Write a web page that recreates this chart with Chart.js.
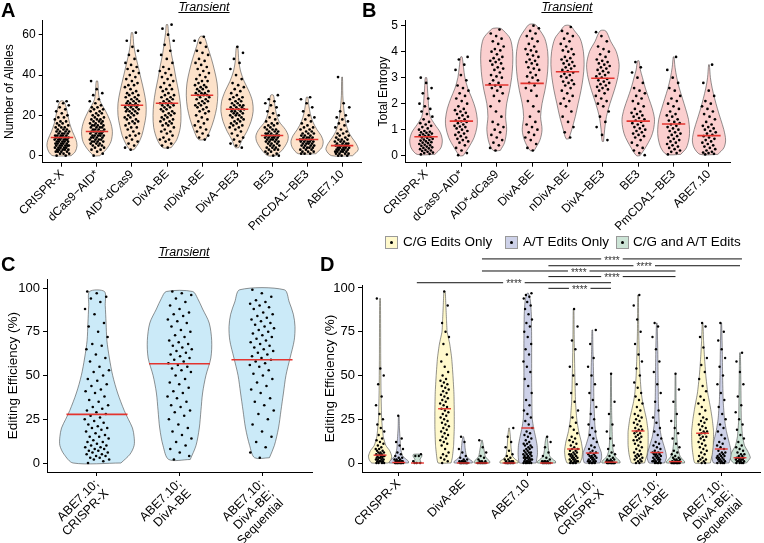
<!DOCTYPE html>
<html>
<head>
<meta charset="utf-8">
<script src="https://cdn.jsdelivr.net/npm/chart.js@4.4.0/dist/chart.umd.min.js"></script>
<style>
  body { margin: 0; background: #fff; font-family: "Liberation Sans", Arial, sans-serif; }
  #wrap { position: relative; width: 764px; height: 543px; overflow: hidden; }
  canvas { position: absolute; }
  .letter { position: absolute; font-weight: bold; font-size: 20px; line-height: 20px; }
  .ttl { position: absolute; width: 120px; text-align: center; font-style: italic; text-decoration: underline; font-size: 12.5px; line-height: 12px; }
  .leg { position: absolute; font-size: 13.5px; line-height: 14px; white-space: nowrap; }
  .box { position: absolute; width: 11px; height: 11px; border: 1px solid #999; }
  .box::after { content: ""; position: absolute; left: 4px; top: 4px; width: 3px; height: 3px; border-radius: 50%; background: #000; }
</style>
</head>
<body>
<div id="wrap">
  <canvas id="cA" width="370" height="270" style="left:0;top:0"></canvas>
  <canvas id="cB" width="392" height="270" style="left:372px;top:0"></canvas>
  <canvas id="cC" width="370" height="303" style="left:0;top:240px"></canvas>
  <canvas id="cD" width="444" height="303" style="left:320px;top:240px"></canvas>

  <div class="letter" style="left:1px;top:0">A</div>
  <div class="letter" style="left:362px;top:0">B</div>
  <div class="letter" style="left:1px;top:254px">C</div>
  <div class="letter" style="left:320px;top:254px">D</div>
  <div class="ttl" style="left:144px;top:1px">Transient</div>
  <div class="ttl" style="left:507px;top:1px">Transient</div>
  <div class="ttl" style="left:124px;top:246px">Transient</div>

  <div class="box" style="left:385px;top:236px;background:#fff9cc"></div>
  <div class="leg" style="left:403px;top:235px">C/G Edits Only</div>
  <div class="box" style="left:505px;top:236px;background:#cdd1e8"></div>
  <div class="leg" style="left:523px;top:235px">A/T Edits Only</div>
  <div class="box" style="left:616px;top:236px;background:#cce4d6"></div>
  <div class="leg" style="left:633px;top:235px">C/G and A/T Edits</div>
</div>

<script>
const family = '"Liberation Sans", Arial, sans-serif';

// ---------- panel A: number of alleles ----------
const editorsAB = ['CRISPR-X', 'dCas9−AID*', 'AID*-dCas9', 'DivA-BE', 'nDivA-BE', 'DivA−BE3', 'BE3', 'PmCDA1−BE3', 'ABE7.10'];
const allelesTicks = [0, 20, 40, 60];
const allelesMedian = [9, 12, 25, 26, 30, 23, 10, 8, 5];
// violin outlines: [value, half width]
const allelesShape = [
  [[0,0.26],[2,0.38],[5,0.43],[8,0.40],[12,0.30],[16,0.22],[20,0.17],[24,0.12],[27,0.05]],
  [[0,0.08],[3,0.26],[7,0.40],[12,0.44],[17,0.38],[22,0.25],[25,0.15],[28,0.07],[32,0.04],[37,0.02]],
  [[3,0.06],[6,0.18],[10,0.28],[15,0.35],[20,0.40],[26,0.40],[32,0.34],[38,0.26],[44,0.18],[50,0.10],[55,0.05],[61,0.02]],
  [[4,0.12],[8,0.28],[14,0.38],[20,0.40],[26,0.38],[32,0.33],[38,0.26],[44,0.20],[50,0.13],[56,0.08],[61,0.04],[65,0.02]],
  [[8,0.10],[12,0.22],[18,0.34],[24,0.42],[30,0.45],[36,0.43],[42,0.36],[48,0.27],[54,0.16],[59,0.06]],
  [[4,0.05],[8,0.15],[12,0.28],[17,0.40],[22,0.46],[27,0.44],[32,0.34],[37,0.20],[42,0.10],[47,0.05],[54,0.02]],
  [[0,0.12],[3,0.30],[7,0.44],[10,0.46],[13,0.38],[17,0.20],[21,0.12],[25,0.08],[30,0.04]],
  [[1,0.25],[4,0.42],[7,0.46],[10,0.40],[13,0.28],[17,0.16],[21,0.09],[25,0.05],[29,0.02]],
  [[0,0.30],[3,0.46],[6,0.40],[9,0.28],[12,0.18],[16,0.11],[20,0.07],[25,0.04],[30,0.02],[39,0.01]]
];
const allelesPoints = [
  [0,0,1,1,1,2,2,2,2,3,3,3,3,3,4,4,4,4,4,5,5,5,5,5,5,6,6,6,6,6,7,7,7,7,7,8,8,8,8,8,8,9,9,9,9,9,10,10,10,10,10,11,11,11,11,12,12,12,12,13,13,13,14,14,14,15,15,16,16,17,17,18,19,19,20,21,22,23,24,25,26,27,27],
  [0,1,2,3,3,4,4,5,5,5,6,6,6,7,7,7,7,8,8,8,8,9,9,9,9,10,10,10,10,10,11,11,11,11,12,12,12,12,12,13,13,13,13,14,14,14,14,15,15,15,15,16,16,16,17,17,17,18,18,18,19,19,20,20,21,21,22,22,23,23,24,24,25,26,27,28,30,31,33,37],
  [3,4,5,6,7,8,9,10,10,11,12,13,14,14,15,16,16,17,17,18,18,19,19,20,20,21,21,22,22,22,23,23,23,24,24,24,25,25,25,25,26,26,26,27,27,27,28,28,29,29,30,30,31,31,32,33,34,35,35,36,37,38,39,40,41,42,43,44,45,46,48,50,52,54,57,61],
  [4,5,6,7,8,8,9,10,11,12,12,13,14,15,15,16,16,17,17,18,18,19,19,20,20,21,21,22,22,23,23,24,24,25,25,25,26,26,26,27,27,28,28,29,29,30,30,31,32,33,33,34,35,36,37,38,39,40,41,42,43,44,46,48,50,52,55,57,60,63,65],
  [8,9,10,11,12,13,14,15,16,17,18,19,20,21,22,22,23,24,24,25,25,26,26,27,27,28,28,29,29,30,30,30,31,31,31,32,32,33,33,34,34,35,35,36,37,37,38,39,40,41,42,43,44,45,46,47,48,50,51,52,54,56,57,59],
  [4,5,6,7,8,9,10,11,12,13,14,14,15,15,16,16,17,17,18,18,19,19,20,20,20,21,21,21,22,22,22,23,23,23,24,24,24,25,25,25,26,26,27,27,28,28,29,29,30,31,32,33,34,35,36,38,40,43,46,48,51,54],
  [0,0,1,1,2,2,3,3,3,4,4,4,5,5,5,6,6,6,7,7,7,7,8,8,8,8,9,9,9,9,9,10,10,10,10,10,11,11,11,11,12,12,12,13,13,13,14,14,15,15,16,16,17,18,19,20,21,22,24,25,26,27,28,30],
  [1,1,1,2,2,2,3,3,3,4,4,4,4,5,5,5,5,6,6,6,6,7,7,7,7,7,8,8,8,8,9,9,9,9,10,10,10,11,11,11,12,12,13,13,14,14,15,16,17,18,19,20,22,24,26,28,29],
  [0,0,0,1,1,1,1,2,2,2,2,2,3,3,3,3,3,4,4,4,4,4,5,5,5,5,5,6,6,6,6,7,7,7,8,8,8,9,9,10,10,11,11,12,13,14,15,16,17,18,19,20,22,24,26,39]
];

// ---------- panel B: total entropy ----------
const entropyTicks = [0, 1, 2, 3, 4, 5];
const entropyMedian = [0.73, 1.33, 2.72, 2.78, 3.23, 2.98, 1.33, 1.22, 0.77];
const entropyShape = [
  [[0.05,0.25],[0.3,0.42],[0.6,0.46],[0.9,0.40],[1.2,0.25],[1.5,0.12],[1.8,0.08],[2.2,0.06],[2.6,0.04],[3.0,0.02]],
  [[0,0.05],[0.3,0.20],[0.7,0.36],[1.1,0.44],[1.4,0.45],[1.8,0.40],[2.2,0.30],[2.6,0.18],[3.0,0.10],[3.4,0.06],[3.8,0.02]],
  [[0.2,0.10],[0.5,0.22],[1.0,0.28],[1.5,0.25],[2.0,0.28],[2.5,0.36],[3.0,0.42],[3.5,0.45],[4.0,0.45],[4.5,0.38],[4.8,0.20],[4.9,0.10]],
  [[0.2,0.06],[0.6,0.22],[1.0,0.28],[1.5,0.24],[2.0,0.28],[2.5,0.36],[3.0,0.42],[3.5,0.45],[4.0,0.44],[4.5,0.36],[4.9,0.18],[5.05,0.08]],
  [[0.65,0.04],[1.0,0.12],[1.5,0.22],[2.0,0.30],[2.5,0.38],[3.0,0.44],[3.5,0.47],[4.0,0.45],[4.5,0.36],[4.8,0.20],[5.0,0.08]],
  [[0.55,0.02],[1.0,0.05],[1.5,0.10],[2.0,0.20],[2.5,0.32],[3.0,0.42],[3.5,0.46],[4.0,0.38],[4.4,0.22],[4.8,0.08]],
  [[0,0.05],[0.3,0.20],[0.7,0.36],[1.0,0.43],[1.4,0.46],[1.8,0.40],[2.2,0.30],[2.6,0.20],[3.0,0.12],[3.3,0.06],[3.65,0.02]],
  [[0.05,0.20],[0.3,0.36],[0.7,0.44],[1.0,0.45],[1.4,0.42],[1.8,0.34],[2.2,0.25],[2.6,0.16],[3.0,0.09],[3.4,0.04],[3.8,0.01]],
  [[0.05,0.25],[0.3,0.42],[0.6,0.47],[1.0,0.42],[1.4,0.33],[1.8,0.24],[2.2,0.16],[2.6,0.09],[3.0,0.04],[3.5,0.01]]
];
const entropyPoints = [
  [0.05,0.07,0.1,0.12,0.15,0.18,0.2,0.22,0.25,0.28,0.3,0.32,0.35,0.38,0.4,0.42,0.45,0.48,0.5,0.52,0.55,0.58,0.6,0.62,0.65,0.68,0.7,0.72,0.75,0.78,0.8,0.82,0.85,0.88,0.9,0.92,0.95,1.0,1.05,1.1,1.15,1.2,1.25,1.3,1.4,1.5,1.6,1.7,1.8,1.9,2.0,2.2,2.4,2.6,2.8,3.0],
  [0.02,0.1,0.2,0.3,0.4,0.5,0.55,0.6,0.65,0.7,0.75,0.8,0.85,0.9,0.95,1.0,1.05,1.1,1.12,1.15,1.2,1.25,1.3,1.32,1.35,1.4,1.45,1.5,1.55,1.6,1.65,1.7,1.75,1.8,1.9,2.0,2.1,2.2,2.3,2.4,2.5,2.6,2.7,2.9,3.1,3.3,3.5,3.7,3.8],
  [0.2,0.3,0.4,0.5,0.6,0.7,0.8,0.9,1.0,1.1,1.2,1.3,1.5,1.7,1.9,2.1,2.3,2.4,2.5,2.6,2.65,2.7,2.75,2.8,2.9,3.0,3.05,3.1,3.2,3.3,3.35,3.4,3.5,3.55,3.6,3.65,3.7,3.75,3.8,3.9,4.0,4.05,4.1,4.2,4.3,4.4,4.5,4.6,4.7,4.85],
  [0.2,0.3,0.45,0.6,0.7,0.8,0.9,1.0,1.1,1.2,1.3,1.5,1.7,1.9,2.1,2.3,2.5,2.6,2.7,2.8,2.9,3.0,3.05,3.1,3.2,3.3,3.35,3.4,3.5,3.55,3.6,3.65,3.7,3.8,3.85,3.9,4.0,4.05,4.1,4.2,4.3,4.4,4.5,4.6,4.7,4.8,4.9,5.0],
  [0.7,0.9,1.1,1.3,1.5,1.7,1.9,2.0,2.1,2.2,2.3,2.4,2.5,2.6,2.7,2.75,2.8,2.85,2.9,3.0,3.05,3.1,3.15,3.2,3.25,3.3,3.35,3.4,3.45,3.5,3.55,3.6,3.65,3.7,3.75,3.8,3.9,4.0,4.05,4.1,4.2,4.3,4.4,4.5,4.6,4.7,4.8,4.95],
  [0.6,0.8,1.1,1.3,1.5,1.7,1.9,2.0,2.1,2.2,2.3,2.4,2.5,2.55,2.6,2.65,2.7,2.75,2.8,2.85,2.9,2.95,3.0,3.05,3.1,3.15,3.2,3.25,3.3,3.35,3.4,3.45,3.5,3.55,3.6,3.65,3.7,3.8,3.9,4.0,4.1,4.2,4.4,4.6,4.75],
  [0.02,0.1,0.2,0.3,0.4,0.5,0.6,0.7,0.75,0.8,0.85,0.9,0.95,1.0,1.05,1.1,1.15,1.2,1.25,1.3,1.35,1.4,1.45,1.5,1.55,1.6,1.65,1.7,1.8,1.9,2.0,2.1,2.2,2.3,2.4,2.5,2.6,2.8,3.0,3.2,3.4,3.6],
  [0.05,0.1,0.15,0.2,0.25,0.3,0.35,0.4,0.45,0.5,0.55,0.6,0.65,0.7,0.75,0.8,0.85,0.9,0.95,1.0,1.05,1.1,1.15,1.2,1.25,1.3,1.35,1.4,1.5,1.55,1.6,1.7,1.8,1.9,2.0,2.1,2.2,2.3,2.5,2.6,2.8,3.0,3.3,3.8],
  [0.05,0.07,0.1,0.12,0.15,0.2,0.25,0.3,0.35,0.4,0.45,0.5,0.55,0.6,0.65,0.7,0.75,0.8,0.85,0.9,0.95,1.0,1.05,1.1,1.15,1.2,1.3,1.4,1.5,1.6,1.7,1.8,1.9,2.0,2.1,2.3,2.5,2.8,3.5]
];

// ---------- panel C: combined editing efficiency ----------
const combosC = [['ABE7.10;', 'CRISPR-X'], ['ABE7.10;', 'DivA-BE'], ['ABE7.10;', 'DivA-BE;', 'Sequential']];
const effTicks = [0, 25, 50, 75, 100];
const comboMedian = [27.8, 56.7, 59];
const comboShape = [
  [[0,0.29],[5,0.40],[10,0.45],[15,0.45],[20,0.43],[25,0.38],[30,0.33],[40,0.25],[50,0.19],[60,0.15],[70,0.12],[80,0.11],[90,0.10],[98,0.09]],
  [[2,0.13],[10,0.20],[20,0.24],[30,0.26],[40,0.28],[50,0.32],[60,0.38],[70,0.39],[80,0.36],[88,0.28],[94,0.22],[98,0.16]],
  [[3,0.09],[10,0.15],[20,0.20],[30,0.23],[40,0.26],[50,0.29],[60,0.34],[70,0.39],[78,0.40],[85,0.38],[92,0.33],[99,0.27]]
];
const comboPoints = [
  [0,1,2,2,3,3,4,4,5,5,6,6,7,7,8,8,9,9,10,10,11,12,12,13,14,15,15,16,17,18,19,20,20,21,22,23,24,25,26,27,28,29,30,31,32,33,35,36,38,40,41,42,44,45,47,48,50,52,53,55,58,60,62,65,67,68,72,75,78,80,85,88,92,94,95,97,98],
  [2,4,6,8,10,12,14,16,18,20,22,25,27,29,30,32,33,35,37,38,40,41,43,45,46,48,50,52,53,54,55,56,57,58,59,60,61,62,63,64,65,66,67,68,69,70,72,73,75,76,78,80,81,82,84,85,86,88,90,92,94,96,97,98],
  [3,6,9,12,15,18,22,25,28,30,33,35,37,40,42,44,46,48,50,51,53,55,56,57,58,59,60,61,62,63,64,65,66,67,68,69,70,71,72,73,74,75,76,77,78,79,80,81,82,83,84,85,86,88,89,90,91,92,93,95,97,99]
];

// ---------- panel D: edit type per editor ----------
const editorsD = ['CRISPR-X', 'DivA-BE', 'ABE7.10', ['ABE7.10;', 'CRISPR-X'], ['ABE7.10;', 'DivA-BE'], ['ABE7.10;', 'DivA-BE;', 'Sequential']];
const editTypes = ['C/G Edits Only', 'A/T Edits Only', 'C/G and A/T Edits'];
// per editor: [C/G, A/T, both]
const editMedian = [[4.5, 0.3, 0], [31, 0, 0], [0, 20, 0], [8, 5.7, 0.5], [18.3, 6, 0.8], [17, 8, 3]];
const editShape = [
  [[[0,0.13],[2,0.17],[4,0.18],[7,0.15],[10,0.09],[15,0.05],[25,0.025],[40,0.015],[60,0.01],[94,0.006]],
   [[0,0.15],[1,0.15],[2,0.12],[4,0.06],[8,0.03],[14,0.02],[20,0.01],[27,0.005]],
   [[0,0.06],[2,0.04],[4,0.07],[5,0.06]]],
  [[[0,0.10],[3,0.12],[10,0.14],[20,0.15],[30,0.15],[40,0.145],[50,0.13],[60,0.11],[68,0.08],[75,0.04],[82,0.03],[90,0.02],[98,0.01]],
   [[0,0.14],[1,0.14],[2,0.10],[4,0.05],[8,0.03],[12,0.02],[15,0.005]],
   [[0,0.12],[1,0.12],[2,0.09],[4,0.05],[8,0.03],[13,0.005]]],
  [[[0,0.14],[1,0.14],[2,0.10],[4,0.05],[9,0.03],[15,0.02],[20,0.005]],
   [[0,0.13],[5,0.15],[10,0.145],[15,0.12],[20,0.09],[25,0.07],[30,0.065],[50,0.06],[70,0.06],[85,0.055],[93,0.04],[97,0.01]],
   [[0,0.14],[1,0.14],[2,0.10],[4,0.05],[8,0.03],[12,0.02],[15,0.005]]],
  [[[0,0.10],[3,0.13],[7,0.14],[12,0.12],[18,0.08],[25,0.05],[35,0.03],[50,0.02],[70,0.01],[88,0.005]],
   [[0,0.12],[3,0.145],[6,0.14],[10,0.10],[15,0.06],[22,0.04],[35,0.025],[50,0.02],[65,0.01],[76,0.005]],
   [[0,0.14],[1,0.14],[2,0.11],[4,0.06],[8,0.03],[15,0.02],[30,0.01],[51,0.005]]],
  [[[0,0.10],[5,0.14],[10,0.155],[18,0.155],[25,0.13],[30,0.10],[35,0.07],[40,0.05],[50,0.03],[60,0.02],[75,0.01],[96,0.005]],
   [[0,0.12],[3,0.15],[6,0.14],[10,0.11],[15,0.07],[22,0.04],[35,0.025],[50,0.02],[65,0.015],[80,0.005]],
   [[0,0.14],[1,0.14],[2,0.11],[4,0.07],[8,0.04],[15,0.02],[30,0.01],[51,0.005]]],
  [[[0,0.12],[5,0.15],[10,0.165],[18,0.17],[25,0.15],[32,0.12],[40,0.08],[50,0.05],[60,0.03],[70,0.015],[80,0.005]],
   [[0,0.12],[4,0.15],[8,0.145],[12,0.12],[18,0.08],[25,0.05],[35,0.03],[50,0.02],[65,0.015],[80,0.005]],
   [[0,0.10],[3,0.16],[6,0.13],[10,0.07],[15,0.04],[25,0.02],[40,0.015],[55,0.01],[63,0.005]]]
];
const editPoints = [
  [[0,0,0,0,1,1,1,1,2,2,2,2,3,3,3,3,4,4,4,4,5,5,5,6,6,6,7,7,8,8,9,10,11,12,13,14,16,18,20,22,25,28,33,38,45,50,54,94],
   [0,0,0,0,0,0,0,0,0,0,0,1,1,1,1,1,2,2,2,3,3,4,5,6,8,10,12,14,27],
   [0,0,0,1,4,4,5]],
  [[0,1,2,3,4,5,6,8,10,11,12,13,14,15,16,17,18,19,20,21,22,23,24,25,26,27,28,29,30,31,32,33,34,35,36,37,38,39,40,41,42,43,44,45,46,47,48,50,52,55,58,62,68,72,75,80,90,98],
   [0,0,0,0,0,0,0,0,0,0,1,1,1,1,2,2,3,4,6,8,12,15],
   [0,0,0,0,0,0,0,0,1,1,1,2,3,4,6,9,13]],
  [[0,0,0,0,0,0,0,0,0,1,1,1,1,2,2,3,4,5,7,9,12,15,20],
   [0,0,0,0,0,1,1,1,1,2,2,2,2,3,3,3,3,4,4,4,5,5,5,6,6,6,7,7,8,8,9,9,10,10,11,11,12,13,14,15,16,17,18,20,22,24,26,28,30,33,36,40,44,48,52,55,58,62,65,68,72,75,78,80,82,85,88,90,92,94,95,96,97],
   [0,0,0,0,0,0,0,0,1,1,1,1,2,3,4,6,9,12,15]],
  [[0,0,0,0,1,1,1,1,2,2,2,3,3,3,4,4,4,5,5,5,6,6,7,7,8,8,9,10,11,12,13,14,15,17,19,21,23,26,30,35,40,45,50,55,65,70,78,88],
   [0,0,0,0,1,1,1,1,2,2,2,3,3,3,4,4,4,5,5,6,6,7,8,9,10,12,14,16,18,20,22,25,28,32,36,40,45,50,55,60,68,76],
   [0,0,0,0,0,0,0,0,0,0,0,1,1,1,1,2,2,2,3,4,5,6,8,10,14,18,22,28,35,51]],
  [[0,0,1,1,2,2,3,3,4,4,5,5,6,7,8,9,10,11,12,13,13,14,15,15,16,17,17,18,19,19,20,21,22,23,24,25,26,27,28,30,32,34,36,38,40,43,46,50,54,58,62,68,75,82,90,96],
   [0,0,0,0,1,1,1,1,2,2,2,3,3,3,4,4,4,5,5,5,6,6,7,8,9,10,11,12,14,16,18,20,23,26,30,35,40,45,52,58,65,72,78,80],
   [0,0,0,0,0,0,0,0,0,0,1,1,1,1,2,2,2,3,3,4,5,6,7,9,11,14,17,20,24,28,35,42,51]],
  [[0,0,1,1,2,2,3,4,5,6,7,8,9,10,11,12,13,14,15,15,16,17,17,18,18,19,20,21,22,23,24,25,26,28,30,32,34,36,38,41,44,48,52,56,60,66,72,78,80],
   [0,0,0,0,1,1,1,2,2,2,3,3,3,4,4,4,5,5,6,6,7,8,9,10,11,12,14,16,18,20,22,25,28,32,36,40,45,50,55,60,65,70,75,80],
   [0,0,0,0,1,1,1,1,2,2,2,2,3,3,3,3,4,4,5,5,6,7,8,9,10,12,14,16,19,22,25,29,33,38,45,52,58,63]]
];
// pairwise comparisons drawn above panel D
const sigFrom = [2.29, 3.32, 2.29, 3.32, 1.28, 3.32];
const sigTo = [6.32, 6.29, 5.29, 5.29, 4.29, 4.29];
const sigLevel = [116.6, 112.7, 109.7, 106.5, 103.0, 99.8];
const sigText = ['****', '****', '****', '****', '****', '****'];

// ---------- helpers ----------
function violin(xc, shape, color, tension) {
  const right = shape.map(p => ({ x: xc + p[1], y: p[0] }));
  const left = shape.slice().reverse().map(p => ({ x: xc - p[1], y: p[0] }));
  const pts = right.concat(left);
  pts.push(right[0]);
  return { data: pts, fill: 'shape', backgroundColor: color, borderColor: '#4a4a4a', borderWidth: 0.6,
           pointRadius: 0, tension: tension, order: 3 };
}

function dots(xc, ys, jw, r) {
  return {
    data: ys.map((y, i) => ({ x: xc + jw * (2 * ((i * 0.618034 + xc * 0.137) % 1) - 1), y: y })),
    showLine: false, pointRadius: r, pointBackgroundColor: '#000', pointBorderWidth: 0, order: 2
  };
}

function medianBar(xc, m, hw, w) {
  return { data: [{ x: xc - hw, y: m }, { x: xc + hw, y: m }], borderColor: '#e3342f', borderWidth: w,
           pointRadius: 0, order: 1 };
}

function options(c) {
  return {
    responsive: false, animation: false, events: [],
    layout: { padding: { top: c.top, right: c.right, left: 0, bottom: 0 } },
    plugins: { legend: { display: false }, tooltip: { enabled: false } },
    scales: {
      x: {
        type: 'linear', min: c.xmin, max: c.xmax,
        afterFit: s => { s.height = c.xh; },
        afterBuildTicks: s => { s.ticks = c.labels.map((l, i) => ({ value: i + 1 })); },
        ticks: { autoSkip: false, minRotation: 45, maxRotation: 45, color: '#000',
                 font: { family: family, size: c.xfont, lineHeight: 1.1 }, padding: 1,
                 callback: v => c.labels[Math.round(v) - 1] },
        grid: { display: true, drawOnChartArea: false, drawTicks: true, tickLength: 4, color: '#000' },
        border: { display: true, color: '#000', width: 1 }
      },
      y: {
        type: 'linear', min: c.ymin, max: c.ymax,
        afterFit: s => { s.width = c.yw; },
        afterBuildTicks: s => { s.ticks = c.yticks.map(v => ({ value: v })); },
        ticks: { color: '#000', font: { family: family, size: c.yfont }, padding: 3 },
        grid: { display: true, drawOnChartArea: false, drawTicks: true, tickLength: 4, color: '#000' },
        border: { display: true, color: '#000', width: 1 },
        title: { display: true, text: c.ytitle, color: '#000', font: { family: family, size: c.tfont },
                 padding: { top: c.tpad, bottom: 0 } }
      }
    }
  };
}

// ---------- panel A ----------
const dsA = [];
editorsAB.forEach((e, i) => {
  dsA.push(violin(i + 1, allelesShape[i], '#fde2ca', 0.3));
  dsA.push(dots(i + 1, allelesPoints[i], 0.21, 1.35));
  dsA.push(medianBar(i + 1, allelesMedian[i], 0.32, 1.6));
});
new Chart(document.getElementById('cA'), {
  type: 'line', data: { datasets: dsA },
  options: options({ top: 20.6, right: 9, xmin: 0.45, xmax: 9.54, xh: 107.3, ymin: -3.47, ymax: 67,
                     yw: 42.7, yticks: allelesTicks, labels: editorsAB, ytitle: 'Number of Alleles',
                     tpad: 2, xfont: 12, yfont: 12, tfont: 12 })
});

// ---------- panel B ----------
const dsB = [];
editorsAB.forEach((e, i) => {
  dsB.push(violin(i + 1, entropyShape[i], '#fbcfcf', 0.3));
  dsB.push(dots(i + 1, entropyPoints[i], 0.2, 1.35));
  dsB.push(medianBar(i + 1, entropyMedian[i], 0.33, 1.6));
});
new Chart(document.getElementById('cB'), {
  type: 'line', data: { datasets: dsB },
  options: options({ top: 20.5, right: 34, xmin: 0.406, xmax: 9.594, xh: 107.3, ymin: -0.27, ymax: 5.2,
                     yw: 33, yticks: entropyTicks, labels: editorsAB, ytitle: 'Total Entropy',
                     tpad: 4, xfont: 12, yfont: 12, tfont: 12 })
});

// ---------- panel C ----------
const dsC = [];
combosC.forEach((e, i) => {
  dsC.push(violin(i + 1, comboShape[i], '#cbeaf8', 0.3));
  dsC.push(dots(i + 1, comboPoints[i], 0.15, 1.3));
  dsC.push(medianBar(i + 1, comboMedian[i], 0.37, 1.6));
});
new Chart(document.getElementById('cC'), {
  type: 'line', data: { datasets: dsC },
  options: options({ top: 39.25, right: 58, xmin: 0.394, xmax: 3.606, xh: 71, ymin: -5.14, ymax: 105,
                     yw: 47, yticks: effTicks, labels: combosC, ytitle: 'Editing Efficiency (%)',
                     tpad: 5, xfont: 12.5, yfont: 13, tfont: 13.5 })
});

// ---------- panel D ----------
const typeColors = ['#fff9cc', '#cdd1e8', '#cce4d6'];
const typeOffset = [-0.29, 0, 0.29];
const dsD = [];
editorsD.forEach((e, g) => {
  editTypes.forEach((t, k) => {
    const xc = g + 1 + typeOffset[k];
    dsD.push(violin(xc, editShape[g][k], typeColors[k], 0.15));
    dsD.push(dots(xc, editPoints[g][k], 0.07, 1.2));
    dsD.push(medianBar(xc, editMedian[g][k], 0.1, 1.4));
  });
});
sigLevel.forEach((lv, i) => {
  dsD.push({ data: [{ x: sigFrom[i], y: lv }, { x: sigTo[i], y: lv }], borderColor: '#111', borderWidth: 1,
             pointRadius: 0, clip: false, order: 0 });
});
const starsPlugin = {
  id: 'stars',
  afterDatasetsDraw(chart) {
    const { ctx, scales: { x, y } } = chart;
    ctx.save();
    ctx.font = '10px ' + family;
    ctx.textAlign = 'center';
    ctx.textBaseline = 'middle';
    sigLevel.forEach((lv, i) => {
      const cx = x.getPixelForValue((sigFrom[i] + sigTo[i]) / 2);
      const cy = y.getPixelForValue(lv);
      const w = ctx.measureText(sigText[i]).width + 6;
      ctx.fillStyle = '#fff';
      ctx.fillRect(cx - w / 2, cy - 2, w, 4);
      ctx.fillStyle = '#333';
      ctx.fillText(sigText[i], cx, cy + 2);
    });
    ctx.restore();
  }
};
new Chart(document.getElementById('cD'), {
  type: 'line', data: { datasets: dsD },
  options: options({ top: 45, right: 1, xmin: 0.43, xmax: 6.6, xh: 71, ymin: -5.14, ymax: 101.7,
                     yw: 42, yticks: effTicks, labels: editorsD, ytitle: 'Editing Efficiency (%)',
                     tpad: 2, xfont: 12.5, yfont: 13, tfont: 13.5 }),
  plugins: [starsPlugin]
});
</script>
</body>
</html>
